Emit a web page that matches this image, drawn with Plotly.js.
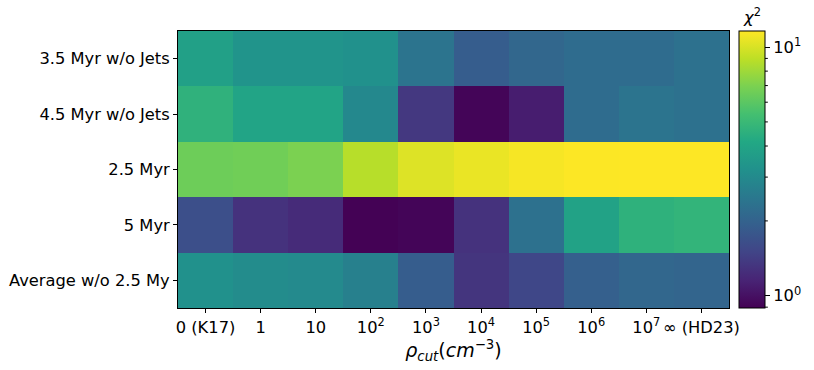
<!DOCTYPE html>
<html><head><meta charset="utf-8">
<script src="https://cdn.plot.ly/plotly-3.0.1.min.js"></script>
<style>body{margin:0;background:#fff}#c{width:814px;height:370px}</style>
</head><body><div id="c"></div>
<script>
const xLabels = ["0 (K17)","1","10","10<sup>2</sup>","10<sup>3</sup>","10<sup>4</sup>","10<sup>5</sup>","10<sup>6</sup>","10<sup>7</sup>","∞ (HD23)"];
const yLabels = ["3.5 Myr w/o Jets","4.5 Myr w/o Jets","2.5 Myr","5 Myr","Average w/o 2.5 My"];
// chi^2 values, rows top to bottom
const row35noJets = [3.82, 3.31, 3.31, 3.23, 2.38, 1.89, 2.09, 2.20, 2.20, 2.32];
const row45noJets = [4.62, 3.96, 3.96, 2.92, 1.35, 0.92, 1.10, 2.20, 2.38, 2.32];
const row25 = [6.52, 6.61, 6.96, 8.76, 10.2, 10.74, 11.3, 11.55, 11.6, 11.6];
const row5 = [1.66, 1.29, 1.22, 0.90, 0.92, 1.29, 2.32, 3.9, 4.6, 4.74];
const rowAvg = [3.23, 3.07, 2.99, 2.70, 1.89, 1.32, 1.54, 1.94, 2.09, 2.04];
const cbMin = 0.893, cbMax = 11.6;
const minorTicks = [0.9,2,3,4,5,6,7,8,9];
const viridis = ['#440154','#482475','#414487','#355f8d','#2a788e','#21918c','#22a884','#44bf70','#7ad151','#bddf26','#fde725'];

const rows = [row35noJets,row45noJets,row25,row5,rowAvg];
const z = rows.map(r => r.map(v => Math.log10(v)));
const xIdx = xLabels.map((_, i) => i);
const zmin = Math.log10(cbMin), zmax = Math.log10(cbMax);
const cs = viridis.map((c, i) => [i / (viridis.length - 1), c]);

const L = 178, R = 731, T = 31, B = 308, W = 814, H = 370;
const pw = R - L, ph = B - T;
const cbLeft = 741, cbThick = 26;
const FS = 16.3;
const shapes = minorTicks.map(v => {
  const f = (Math.log10(v) - zmin) / (zmax - zmin);
  return {type:'line', xref:'paper', yref:'paper',
    x0:(cbLeft + cbThick - L)/pw, x1:(cbLeft + cbThick + 3 - L)/pw, y0:f, y1:f,
    line:{color:'black', width:1}};
});

const trace = {
  type:'heatmap', z:z, x:xIdx, y:yLabels,
  colorscale:cs, zmin:zmin, zmax:zmax, xgap:0, ygap:0,
  hoverinfo:'skip',
  colorbar:{
    x:(cbLeft - L)/pw, xanchor:'left', xpad:0, ypad:0,
    y:0.5, yanchor:'middle', len:1, lenmode:'fraction',
    thickness:cbThick, thicknessmode:'pixels',
    outlinewidth:1, outlinecolor:'black',
    tickvals:[0,1], ticktext:['10<sup>0</sup>','10<sup>1</sup>'],
    ticks:'outside', ticklen:5, tickwidth:1, tickcolor:'black',
    tickfont:{family:'DejaVu Sans', size:FS, color:'black'}
  }
};

const layout = {
  width:W, height:H,
  margin:{l:L, r:W-R, t:T, b:H-B, pad:0},
  paper_bgcolor:'white', plot_bgcolor:'white',
  font:{family:'DejaVu Sans', size:FS, color:'black'},
  xaxis:{tickvals:xIdx, ticktext:xLabels, range:[-0.5,9.5], showgrid:false, zeroline:false,
    ticks:'outside', ticklen:4, tickwidth:1, tickcolor:'black',
    showline:true, linecolor:'black', linewidth:1, mirror:true,
    tickfont:{family:'DejaVu Sans', size:FS, color:'black'},
    title:{text:'<i>ρ</i><sub><i>cut</i></sub>(<i>cm</i><sup>−3</sup>)', standoff:7,
      font:{family:'DejaVu Sans', size:19, color:'black'}}},
  yaxis:{autorange:'reversed', type:'category', showgrid:false, zeroline:false,
    ticks:'outside', ticklen:4, tickwidth:1, tickcolor:'black',
    showline:true, linecolor:'black', linewidth:1, mirror:true,
    tickfont:{family:'DejaVu Sans', size:FS, color:'black'}},
  shapes:shapes,
  annotations:[{text:'<i>χ</i><sup>2</sup>', xref:'paper', yref:'paper',
    x:(cbLeft + cbThick/2 - L)/pw, y:1, yshift:2, xanchor:'center', yanchor:'bottom',
    showarrow:false, font:{family:'DejaVu Sans', size:FS, color:'black'}}]
};

Plotly.newPlot('c', [trace], layout, {displayModeBar:false, staticPlot:true});
</script>
</body></html>
